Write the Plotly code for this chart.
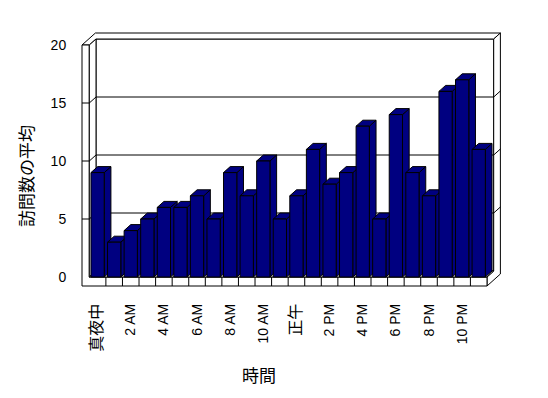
import plotly.graph_objects as go

# ---- data ----
hours = list(range(24))
tick_positions = [0, 2, 4, 6, 8, 10, 12, 14, 16, 18, 20, 22]
tick_labels = ["真夜中", "2 AM", "4 AM", "6 AM", "8 AM", "10 AM",
               "正午", "2 PM", "4 PM", "6 PM", "8 PM", "10 PM"]
avg_visits = [9, 3, 4, 5, 6, 6, 7, 5, 9, 7, 10, 5,
              7, 11, 8, 9, 13, 5, 14, 9, 7, 16, 17, 11]
y_ticks = [0, 5, 10, 15, 20]

# ---- styling / 3D geometry (data units) ----
NAVY = "#000080"
BAR_W = 0.8
DX, DY = 0.404, 0.517          # depth offset
XL_OUT, XL_IN = -0.941, -0.5    # left wall outer/inner
XR = len(hours) - 0.5           # right end of floor
VTOP = max(y_ticks)
FT = 0.776                      # floor thickness


def path(pts):
    return "M " + " L ".join(f"{x},{y}" for x, y in pts) + " Z"


shapes = []


def poly(pts, fill="white"):
    shapes.append(dict(type="path", xref="x", yref="y", path=path(pts),
                       fillcolor=fill, line=dict(color="black", width=1),
                       layer="below"))


def seg(x0, y0, x1, y1):
    shapes.append(dict(type="line", xref="x", yref="y", x0=x0, y0=y0,
                       x1=x1, y1=y1, line=dict(color="black", width=1),
                       layer="below"))


# back wall front face
poly([(XL_IN + DX, DY), (XR + DX, DY), (XR + DX, VTOP + DY), (XL_IN + DX, VTOP + DY)])
# top face (L-shape: left wall top + back wall top)
poly([(XL_OUT, VTOP), (XL_IN, VTOP), (XL_IN + DX, VTOP + DY), (XR + DX, VTOP + DY),
      (XR + 2 * DX, VTOP + 2 * DY), (XL_OUT + 2 * DX, VTOP + 2 * DY)])
# right end face (floor + back wall)
poly([(XR, 0), (XR, -FT), (XR + 2 * DX, 2 * DY - FT), (XR + 2 * DX, VTOP + 2 * DY),
      (XR + DX, VTOP + DY), (XR + DX, DY)])
# left wall front face + floor front face
poly([(XL_OUT, VTOP), (XL_IN, VTOP), (XL_IN, 0), (XR, 0), (XR, -FT), (XL_OUT, -FT)])
# left wall inner face
poly([(XL_IN, 0), (XL_IN, VTOP), (XL_IN + DX, VTOP + DY), (XL_IN + DX, DY)])
# floor top face
poly([(XL_IN, 0), (XR, 0), (XR + DX, DY), (XL_IN + DX, DY)])

# gridlines
for v in y_ticks[1:-1]:
    seg(XL_IN + DX, v + DY, XR + DX, v + DY)
    seg(XL_IN, v, XL_IN + DX, v + DY)
    seg(XR + DX, v + DY, XR + 2 * DX, v + 2 * DY)
    seg(XL_OUT, v, XL_IN, v)

# floor category dividers
for i in hours[:-1]:
    seg(i + 0.5, 0, i + 0.5, -FT)

# bar sides and tops
for i, v in zip(hours, avg_visits):
    xl, xr = i - BAR_W / 2, i + BAR_W / 2
    poly([(xr, 0), (xr, v), (xr + DX, v + DY), (xr + DX, DY)], NAVY)
    poly([(xl, v), (xr, v), (xr + DX, v + DY), (xl + DX, v + DY)], NAVY)

fig = go.Figure()
fig.add_trace(go.Bar(x=hours, y=avg_visits, width=BAR_W,
                     marker=dict(color=NAVY, line=dict(color="black", width=1)),
                     hoverinfo="skip"))

# larger glyphs for the Japanese labels
tick_text = [f"<span style='font-size:16px'>{t}</span>" if not t[0].isdigit() else t
             for t in tick_labels]

# page body has an 8px margin; positions below are page pixels
OFF = 8
W, H = 548, 398
PX0, PX1, PY0, PY1 = 80, 510, 25, 295          # plot area in page pixels
L, R = PX0 - OFF, W - (PX1 - OFF)
T, B = PY0 - OFF, H - (PY1 - OFF)
PW, PH = PX1 - PX0, PY1 - PY0
fig.update_layout(
    width=W, height=H,
    margin=dict(l=L, r=R, t=T, b=B),
    paper_bgcolor="white", plot_bgcolor="white",
    showlegend=False,
    shapes=shapes,
    font=dict(family="Liberation Sans, Noto Sans CJK JP", size=14, color="black"),
    xaxis=dict(range=[(PX0 - 97.6) / 16.57, (PX1 - 97.6) / 16.57],
               tickmode="array", tickvals=tick_positions, ticktext=tick_text,
               tickangle=-90, ticks="", ticklabelstandoff=5,
               showgrid=False, zeroline=False,
               showline=False, fixedrange=True, automargin=False,
               tickfont=dict(family="Liberation Sans, Noto Sans CJK JP", size=14,
                             color="black")),
    yaxis=dict(range=[(277 - PY1) / 11.6, (277 - PY0) / 11.6],
               tickmode="array", tickvals=y_ticks,
               ticks="outside", ticklen=10, tickcolor="rgba(0,0,0,0)",
               showgrid=False, zeroline=False, showline=False, fixedrange=True,
               automargin=False,
               tickfont=dict(family="Liberation Sans", size=14)),
    annotations=[
        dict(text="訪問数の平均", xref="paper", yref="paper",
             x=(25 - PX0) / PW, y=(PY1 - 176) / PH, textangle=-90,
             xanchor="center", yanchor="middle",
             showarrow=False, font=dict(family="Noto Sans CJK JP", size=17)),
        dict(text="時間", xref="paper", yref="paper",
             x=(259 - PX0) / PW, y=(PY1 - 374) / PH,
             xanchor="center", yanchor="middle",
             showarrow=False, font=dict(family="Noto Sans CJK JP", size=17)),
    ],
)

fig.write_html("out.html")
